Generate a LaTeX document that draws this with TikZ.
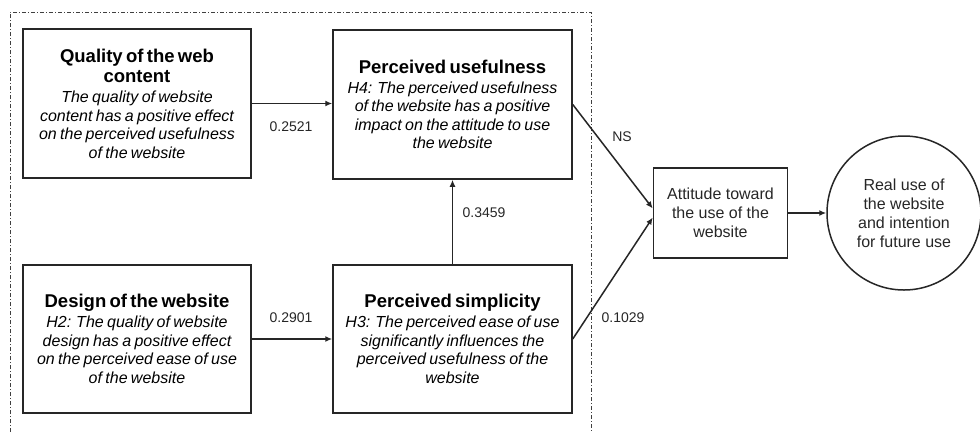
\documentclass[tikz,border=0pt]{standalone}
\usepackage{fontspec}
\setmainfont{Liberation Sans}
\usetikzlibrary{arrows.meta}
\newcommand{\ttl}[1]{{\fontsize{18.5}{20.5}\selectfont\bfseries #1\par}\vspace{1.5pt}}
\newcommand{\bdy}[1]{{\fontsize{16}{18.5}\selectfont\itshape #1\par}}
\begin{document}
\begin{tikzpicture}[x=1pt,y=-1pt,
  hbox/.style={draw=black!85, line width=1.5pt, rectangle, inner sep=0pt, align=center, text width=#1},
  hbox/.default=224pt,
  conn/.style={draw=black!85, line width=1.5pt, -{Latex[length=7pt,width=6pt]}},
  lbl/.style={font=\fontsize{14}{16}\selectfont, text=black!85, inner sep=0pt},
  smalltxt/.style={font=\fontsize{16}{19}\selectfont, align=center, text=black!85}
]
\useasboundingbox (0,0) rectangle (980,432);
% frame
\draw[black!75, line width=0.9pt, dash pattern=on 4pt off 2pt on 1pt off 2pt]
  (10,432) -- (10,12) -- (591,12) -- (591,432);
% nodes
\node[hbox, minimum width=228pt, minimum height=149pt] (q) at (137,103.5)
  {\ttl{Quality of the web\\content}\bdy{The quality of website\\content has a positive effect\\on the perceived usefulness\\of the website}};
\node[hbox=232pt, minimum width=239pt, minimum height=149pt] (pu) at (452.5,104.5)
  {\ttl{Perceived usefulness}\bdy{H4: The perceived usefulness\\of the website has a positive\\impact on the attitude to use\\the website}};
\node[hbox, minimum width=228pt, minimum height=148pt] (d) at (137,339)
  {\ttl{Design of the website}\bdy{H2: The quality of website\\design has a positive effect\\on the perceived ease of use\\of the website}};
\node[hbox=232pt, minimum width=239pt, minimum height=148pt] (ps) at (452.5,339)
  {\ttl{Perceived simplicity}\bdy{H3: The perceived ease of use\\significantly influences the\\perceived usefulness of the\\website}};
\node[draw=black!85, line width=1.5pt, rectangle, minimum width=134pt, minimum height=90pt, smalltxt] (att) at (720.5,213)
  {Attitude toward\\the use of the\\website};
\node[draw=black!85, line width=1.5pt, circle, minimum size=154pt, inner sep=0pt, smalltxt] (c) at (904,213)
  {Real use of\\the website\\and intention\\for future use};
% connectors
\draw[conn] (q.east) -- (q.east -| pu.west);
\draw[conn] (d.east) -- (d.east -| ps.west);
\draw[conn] (ps.north) -- (pu.south);
\draw[conn] (pu.east) -- ([yshift=4.5pt]att.west);
\draw[conn] (ps.east) -- ([yshift=-4.5pt]att.west);
\draw[conn] (att.east) -- (c.west);
% labels
\node[lbl] (l1) at (291,127) {0.2521};
\node[lbl] (l2) at (291,318) {0.2901};
\node[lbl] (l3) at (484,213) {0.3459};
\node[lbl] (l4) at (622,137) {NS};
\node[lbl] (l5) at (623,318) {0.1029};
\end{tikzpicture}
\end{document}
